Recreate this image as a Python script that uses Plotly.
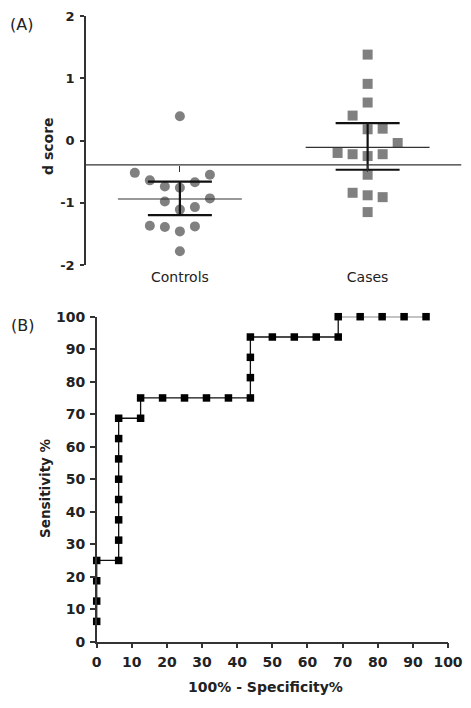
import plotly.graph_objects as go

# ---------------- data ----------------
categories = ["Controls", "Cases"]

controls_d = [0.39, -0.52, -0.64, -0.74, -0.76, -0.67, -0.55, -0.98, -1.11,
              -1.07, -0.93, -1.37, -1.39, -1.46, -1.38, -1.78]
controls_slot = [0, -3, -2, -1, 0, 1, 2, -1, 0, 1, 2, -2, -1, 0, 1, 0]

cases_d = [1.38, 0.91, 0.61, 0.40, 0.18, 0.19, -0.04, -0.20, -0.22, -0.25,
           -0.22, -0.55, -0.84, -0.88, -0.91, -1.15]
cases_slot = [0, 0, 0, -1, 0, 1, 2, -2, -1, 0, 1, 0, -1, 0, 1, 0]

group_mean = [-0.94, -0.11]
ci_low = [-1.20, -0.47]
ci_high = [-0.66, 0.28]
threshold = -0.39

d_ticks = [-2, -1, 0, 1, 2]

roc_fpr = [0, 0, 0, 0, 6.25, 6.25, 6.25, 6.25, 6.25, 6.25, 6.25, 6.25, 12.5, 12.5,
           18.75, 25, 31.25, 37.5, 43.75, 43.75, 43.75, 43.75, 50, 56.25, 62.5,
           68.75, 68.75, 75, 81.25, 87.5, 93.75]
roc_sens = [6.25, 12.5, 18.75, 25, 25, 31.25, 37.5, 43.75, 50, 56.25, 62.5, 68.75,
            68.75, 75, 75, 75, 75, 75, 75, 81.25, 87.5, 93.75, 93.75, 93.75, 93.75,
            93.75, 100, 100, 100, 100, 100]
pct_ticks = list(range(0, 101, 10))

# ---------------- styles / layout ----------------
W, H = 471, 708
FONT = "DejaVu Sans, Liberation Sans, sans-serif"
TXT = "#222222"
GRAY = "#808080"
AX = "#333333"
JITTER = 0.08
MEAN_HALF = 0.33
CAP_HALF_PX = 32

def px(v, total):
    return v / total

xa_dom = [px(86, W), px(461.5, W)]
ya_dom = [1 - px(265, H), 1 - px(16, H)]
xb_dom = [px(96.7, W), px(448, W)]
yb_dom = [1 - px(641.7, H), 1 - px(316.7, H)]

fig = go.Figure()

cx = [1 + s * JITTER for s in controls_slot]
kx = [2 + s * JITTER for s in cases_slot]

fig.add_trace(go.Scatter(x=cx, y=controls_d, mode="markers", xaxis="x", yaxis="y",
                         marker=dict(symbol="circle", size=10, color=GRAY),
                         cliponaxis=False, showlegend=False, hoverinfo="skip"))
fig.add_trace(go.Scatter(x=kx, y=cases_d, mode="markers", xaxis="x", yaxis="y",
                         marker=dict(symbol="square", size=10, color=GRAY),
                         cliponaxis=False, showlegend=False, hoverinfo="skip"))

# threshold line on an overlay axis positioned at the threshold value
fig.add_trace(go.Scatter(x=[0.5, 2.5], y=[threshold, threshold], mode="lines",
                         xaxis="x3", yaxis="y",
                         line=dict(color=AX, width=1.2),
                         showlegend=False, hoverinfo="skip"))

# mean lines
fig.add_trace(go.Scatter(x=[1, 2], y=group_mean, mode="markers", xaxis="x", yaxis="y",
                         marker=dict(size=0.1, color="rgba(0,0,0,0)"),
                         error_x=dict(type="constant", value=MEAN_HALF, width=0,
                                      thickness=1.2, color=AX),
                         cliponaxis=False, showlegend=False, hoverinfo="skip"))
# 95% CI bars
fig.add_trace(go.Scatter(x=[1, 2], y=group_mean, mode="markers", xaxis="x", yaxis="y",
                         marker=dict(size=0.1, color="rgba(0,0,0,0)"),
                         error_y=dict(type="data", symmetric=False,
                                      array=[h - m for h, m in zip(ci_high, group_mean)],
                                      arrayminus=[m - l for m, l in zip(group_mean, ci_low)],
                                      width=CAP_HALF_PX, thickness=2.2, color="#111111"),
                         cliponaxis=False, showlegend=False, hoverinfo="skip"))

# ROC
fig.add_trace(go.Scatter(x=roc_fpr, y=roc_sens, mode="lines+markers", xaxis="x2", yaxis="y2",
                         line=dict(color="#111111", width=1.3),
                         marker=dict(symbol="square", size=7.5, color="#000000"),
                         cliponaxis=False, showlegend=False, hoverinfo="skip"))

thr_pos = ya_dom[0] + (threshold - d_ticks[0]) / (d_ticks[-1] - d_ticks[0]) * (ya_dom[1] - ya_dom[0])

fig.update_layout(
    width=W, height=H,
    margin=dict(l=0, r=0, t=0, b=0, autoexpand=False),
    paper_bgcolor="white", plot_bgcolor="white",
    font=dict(family=FONT, color=TXT),
    hovermode=False,
    xaxis=dict(domain=xa_dom, range=[0.5, 2.5], anchor="y",
               showline=False, showgrid=False, zeroline=False, ticks="",
               tickvals=[1, 2], ticktext=categories,
               tickfont=dict(size=14, family=FONT, color=TXT),
               ticklabelstandoff=2),
    xaxis3=dict(domain=xa_dom, range=[0.5, 2.5], overlaying="x", anchor="free",
                position=thr_pos, side="bottom",
                showline=False, showgrid=False, zeroline=False,
                ticks="outside", ticklen=6, tickwidth=1.2, tickcolor=AX,
                tickvals=[1, 2], showticklabels=False),
    yaxis=dict(domain=ya_dom, range=[d_ticks[0], d_ticks[-1]], anchor="x",
               showline=True, linecolor=AX, linewidth=1.5,
               showgrid=False, zeroline=False,
               ticks="outside", ticklen=4, tickwidth=1.5, tickcolor=AX,
               tickvals=d_ticks, ticktext=[str(v) for v in d_ticks],
               tickfont=dict(size=13, family=FONT, color=TXT, weight="bold"),
               ticklabelstandoff=3),
    xaxis2=dict(domain=xb_dom, range=[0, 100], anchor="y2",
                showline=True, linecolor=AX, linewidth=1.5,
                showgrid=False, zeroline=False,
                ticks="outside", ticklen=5, tickwidth=1.5, tickcolor=AX,
                tickvals=pct_ticks,
                tickfont=dict(size=14, family=FONT, color=TXT, weight="bold"),
                ticklabelstandoff=2),
    yaxis2=dict(domain=yb_dom, range=[0, 100], anchor="x2",
                showline=True, linecolor=AX, linewidth=1.5,
                showgrid=False, zeroline=False,
                ticks="outside", ticklen=5, tickwidth=1.5, tickcolor=AX,
                tickvals=pct_ticks,
                tickfont=dict(size=14, family=FONT, color=TXT, weight="bold"),
                ticklabelstandoff=2),
)

ann = [
    dict(text="(A)", x=px(21, W), y=1 - px(24, H), size=16, bold=False, angle=0),
    dict(text="(B)", x=px(22, W), y=1 - px(325, H), size=16, bold=False, angle=0),
    dict(text="d score", x=px(48, W), y=1 - px(146, H), size=14, bold=True, angle=-90),
    dict(text="Sensitivity %", x=px(45, W), y=1 - px(488, H), size=13.5, bold=True, angle=-90),
    dict(text="100% - Specificity%", x=px(265, W), y=1 - px(687, H), size=14, bold=True, angle=0),
]
for a in ann:
    fig.add_annotation(text=a["text"], x=a["x"], y=a["y"], xref="paper", yref="paper",
                       xanchor="center", yanchor="middle", showarrow=False,
                       textangle=a["angle"],
                       font=dict(size=a["size"], family=FONT, color=TXT,
                                 weight="bold" if a["bold"] else "normal"))

fig.write_html("out.html", config={"displayModeBar": False},
               post_script="document.body.style.margin='0';document.body.style.overflow='hidden';")
